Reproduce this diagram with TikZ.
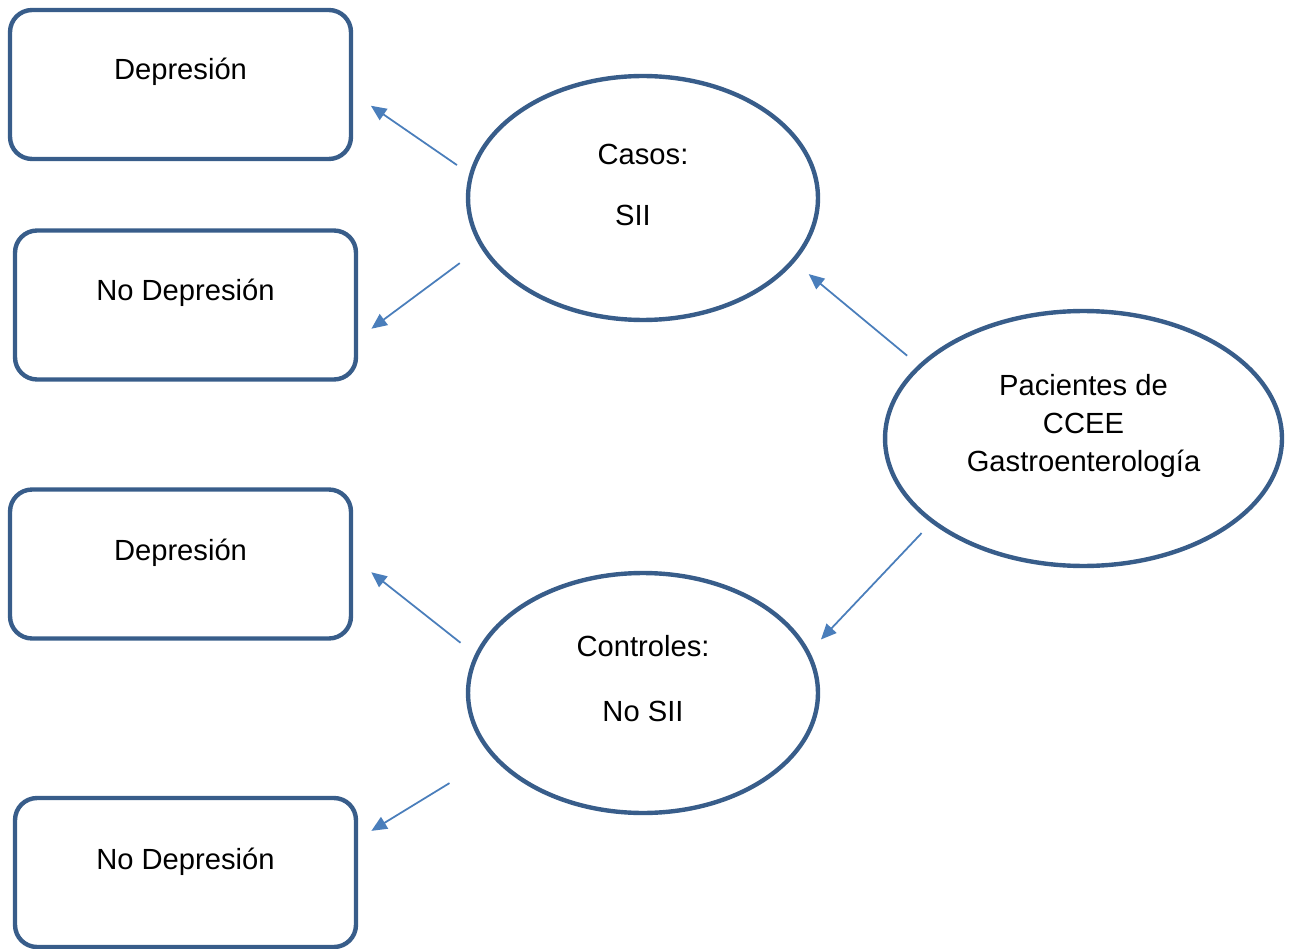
\documentclass[tikz,border=0pt]{standalone}
\usepackage{fontspec}
\setmainfont{Liberation Sans}
\usetikzlibrary{shapes.geometric, arrows.meta}
\definecolor{frameblue}{HTML}{385D8A}
\definecolor{arrowblue}{HTML}{4A7EBB}

\begin{document}
\begin{tikzpicture}[x=0.02cm, y=-0.02cm,
    box/.style={draw=frameblue, line width=2.5pt, rounded corners=0.44cm, minimum width=6.82cm, minimum height=2.98cm},
    oval/.style={draw=frameblue, line width=2.5pt, ellipse, inner sep=0pt},
    txt/.style={font=\fontsize{16.6}{21.5}\selectfont, inner sep=0pt, anchor=base, align=center},
    arr/.style={draw=arrowblue, line width=1pt, -{Triangle[length=0.31cm, width=0.27cm]}}
  ]
  \useasboundingbox (0,0) rectangle (1294,949);

  % outcome boxes
  \node[box] (dep1) at (180.5,84.5) {};
  \node[box] (nodep1) at (185.5,305) {};
  \node[box] (dep2) at (180.5,564) {};
  \node[box] (nodep2) at (185.5,872.5) {};
  \node[txt] (dep1t) at (180.5,80) {Depresión};
  \node[txt] (nodep1t) at (185.5,301) {No Depresión};
  \node[txt] (dep2t) at (180.5,560) {Depresión};
  \node[txt] (nodep2t) at (185.5,869) {No Depresión};

  % groups (text anchored on the last baseline)
  \node[oval, minimum width=7cm, minimum height=4.88cm] (cas) at (643,198) {};
  \node[oval, minimum width=7.94cm, minimum height=5.1cm] (pac) at (1083.5,438.5) {};
  \node[oval, minimum width=7cm, minimum height=4.8cm] (con) at (643,693) {};
  \node[txt] (cast) at (643,226) {Casos:\\[13.7pt]SII\hspace*{0.4cm}};
  \node[txt] (pact) at (1083.5,471) {Pacientes de\\CCEE\\Gastroenterología};
  \node[txt] (cont) at (643,721) {Controles:\\[15.4pt]No SII};

  \draw[arr, shorten <=0.3cm, shorten >=0.43cm] (cas.172) -- (dep1.-3);
  \draw[arr, shorten <=0.52cm, shorten >=0.33cm] (cas.197) -- (nodep1.-11);
  \draw[arr, shorten <=0.29cm, shorten >=0.37cm] (pac.156) -- (cas.-23);
  \draw[arr, shorten <=0.28cm, shorten >=0.33cm] (pac.209) -- (con.14);
  \draw[arr, shorten <=0.37cm, shorten >=0.46cm] (con.167) -- (dep2.2);
  \draw[arr, shorten <=1cm, shorten >=0.31cm] (con.203) -- (nodep2.11);
\end{tikzpicture}
\end{document}
